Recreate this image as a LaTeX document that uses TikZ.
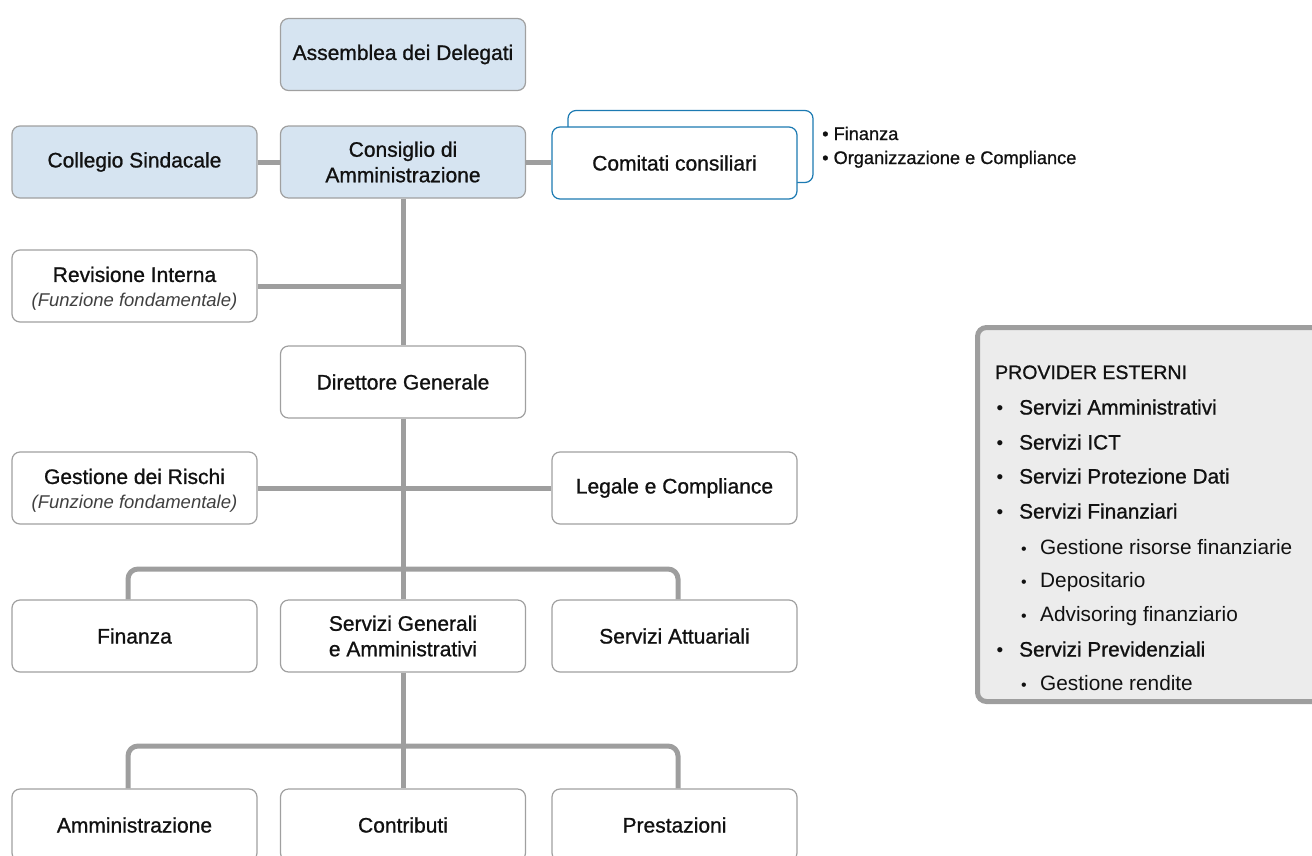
\documentclass[tikz,border=0pt]{standalone}
\usepackage{fontspec}
\setmainfont{Liberation Sans}
\newfontfamily\medfont[FakeBold=0.9]{Liberation Sans}
\definecolor{lightblue}{RGB}{214,228,241}
\definecolor{boxgray}{RGB}{160,160,160}
\definecolor{linegray}{RGB}{158,158,158}
\definecolor{comblue}{RGB}{28,122,178}
\definecolor{provfill}{RGB}{236,236,236}
\definecolor{txt}{RGB}{17,17,17}
\begin{document}
\begin{tikzpicture}[x=1pt,y=-1pt,
  orgbox/.style={draw=boxgray, line width=1.2pt, rounded corners=8pt, fill=white,
    minimum width=245pt, minimum height=72pt, inner sep=0pt, align=center,
    text=txt, font=\medfont\fontsize{21}{25.5}\selectfont},
  bluebox/.style={orgbox, fill=lightblue},
  combox/.style={orgbox, draw=comblue},
  twoline/.style={align=center, inner sep=0pt, text=txt, font=\medfont\fontsize{21}{25.5}\selectfont},
  conn/.style={draw=linegray, line width=5pt},
  provitem/.style={anchor=base west, inner sep=0pt, text=txt, font=\medfont\fontsize{20.8}{24}\selectfont},
  provsub/.style={anchor=base west, inner sep=0pt, text=txt, font=\fontsize{20.8}{24}\selectfont},
  provbullet/.style={anchor=base, inner sep=0pt, text=txt, font=\fontsize{19}{20}\selectfont},
  comnote/.style={anchor=base west, inner sep=0pt, text=txt, font=\medfont\fontsize{18.2}{22}\selectfont}
]
\useasboundingbox (0,0) rectangle (1312,855);
\clip (0,0) rectangle (1312,855);

% top rows
\node[bluebox] (assemblea) at (403,54.5) {Assemblea dei Delegati};
\node[bluebox] (collegio) at (134.5,162) {Collegio Sindacale};
\node[bluebox] (consiglio) at (403,162) {Consiglio di\\Amministrazione};
\node[combox] (comback) at (690.5,146.5) {};
\node[combox] (comfront) at (674.5,163) {Comitati consiliari};
\node[comnote] (cn1) at (822,140) {• Finanza};
\node[comnote] (cn2) at (822,164) {• Organizzazione e Compliance};

\node[orgbox] (revisione) at (134.5,286) {};
\node[twoline] (revisionetxt) at (134.5,288.5) {Revisione Interna\\[-1pt]{\normalfont\itshape\fontsize{18.5}{22}\selectfont\color{black!75}(Funzione fondamentale)}};
\node[orgbox] (direttore) at (403,382) {Direttore Generale};
\node[orgbox] (gestione) at (134.5,488) {};
\node[twoline] (gestionetxt) at (134.5,490.5) {Gestione dei Rischi\\[-1pt]{\normalfont\itshape\fontsize{18.5}{22}\selectfont\color{black!75}(Funzione fondamentale)}};
\node[orgbox] (legale) at (674.5,488) {Legale e Compliance};

\node[orgbox] (finanza) at (134.5,636) {Finanza};
\node[orgbox] (servgen) at (403,636) {Servizi Generali\\e Amministrativi};
\node[orgbox] (attuariali) at (674.5,636) {Servizi Attuariali};

\node[orgbox] (amministrazione) at (134.5,825) {Amministrazione};
\node[orgbox] (contributi) at (403,825) {Contributi};
\node[orgbox] (prestazioni) at (674.5,825) {Prestazioni};

% connectors
\coordinate (bar1) at (403,569);
\coordinate (bar2) at (403,746);
\draw[conn] (collegio.east) -- (consiglio.west);
\draw[conn] (consiglio.east) -- (consiglio.east -| comfront.west);
\draw[conn] (consiglio.south) -- (direttore.north);
\draw[conn] (revisione.east) -- (revisione.east -| consiglio.south);
\draw[conn] (direttore.south) -- (servgen.north);
\draw[conn] (gestione.east) -- (legale.west);
\draw[conn, rounded corners=10pt] ([xshift=-6.5pt]finanza.north) |- (bar1) -| ([xshift=3.5pt]attuariali.north);
\draw[conn] (servgen.south) -- (contributi.north);
\draw[conn, rounded corners=10pt] ([xshift=-6.5pt]amministrazione.north) |- (bar2) -| ([xshift=3.5pt]prestazioni.north);

% provider panel
\node[draw=linegray, line width=5pt, fill=provfill, rounded corners=9pt,
      minimum width=370pt, minimum height=374pt, inner sep=0pt, anchor=north west] (provider) at (975,325) {};
\node[provitem, font=\medfont\fontsize{19.5}{24}\selectfont] (ph) at (995,379) {PROVIDER ESTERNI};
\foreach \y/\t/\n in {407/Servizi Amministrativi/a, 442/Servizi ICT/b, 476/Servizi Protezione Dati/c, 511/Servizi Finanziari/d, 649/Servizi Previdenziali/e}{
  \node[provbullet] (pb\n) at (1000,\y+7.5) {•};
  \node[provitem] (pi\n) at (1019,\y+7.5) {\t};
}
\foreach \y/\t/\n in {547/Gestione risorse finanziarie/a, 580/Depositario/b, 614/Advisoring finanziario/c, 683/Gestione rendite/d}{
  \node[provbullet, font=\fontsize{16}{18}\selectfont] (sb\n) at (1024,\y+7.5) {•};
  \node[provsub] (si\n) at (1040,\y+7.5) {\t};
}
\end{tikzpicture}
\end{document}
